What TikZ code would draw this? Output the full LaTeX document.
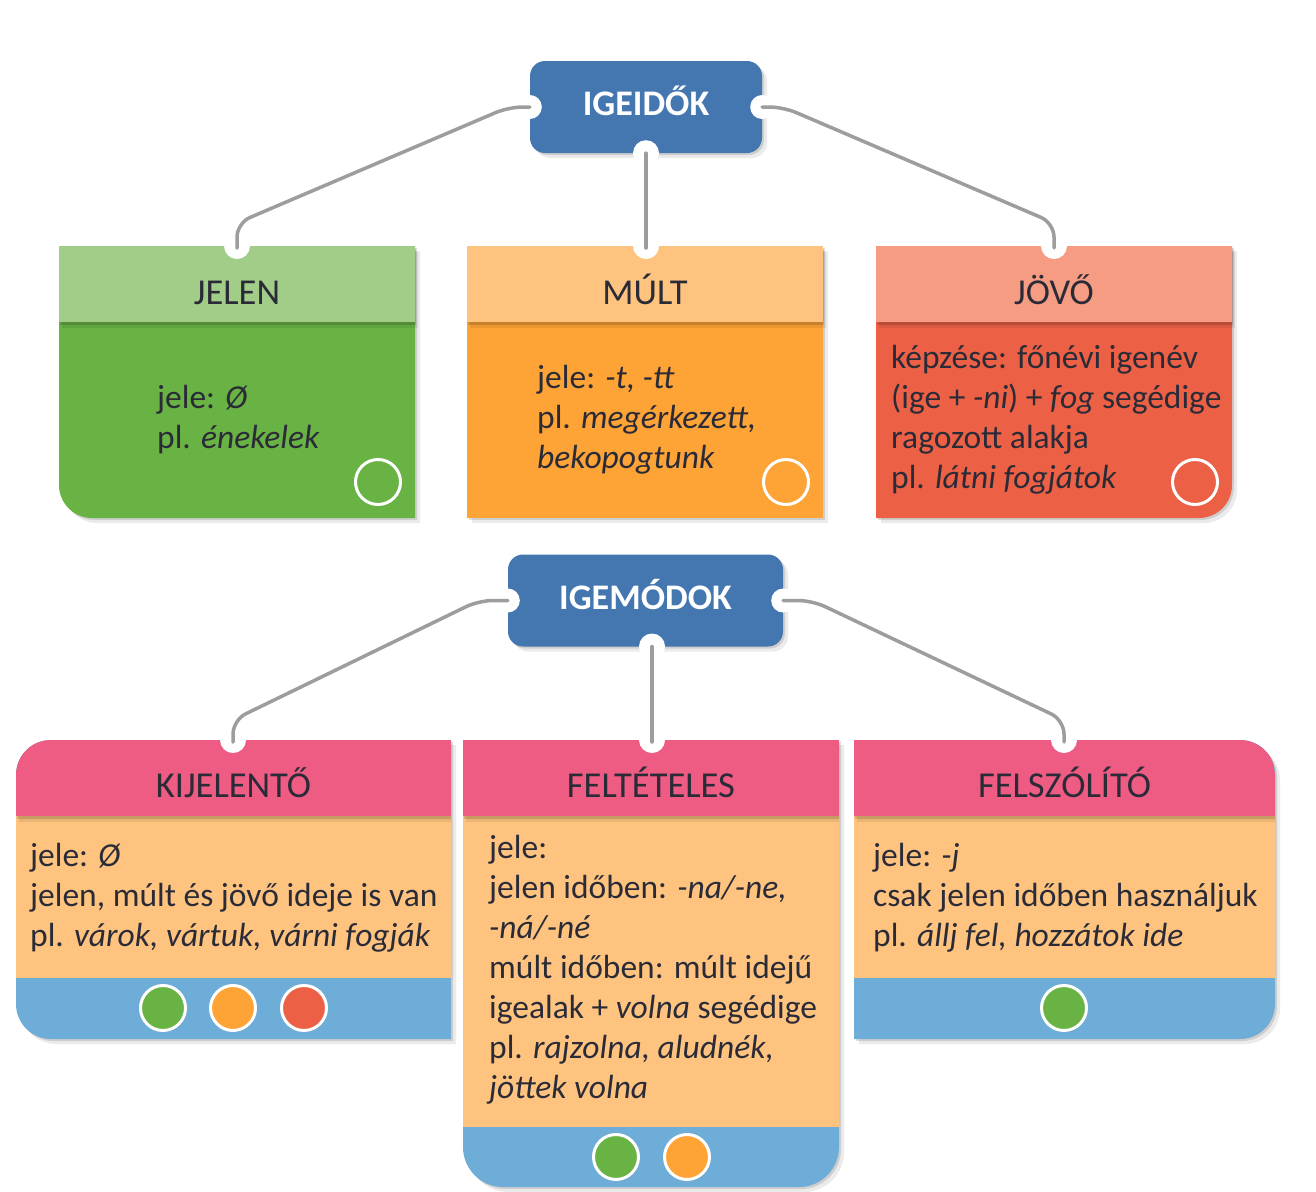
\documentclass[tikz,border=0pt]{standalone}
\usepackage{fontspec}
\setmainfont{Carlito}
\usetikzlibrary{calc,shadows}

\definecolor{igblue}{HTML}{4477B0}
\definecolor{jelenhead}{HTML}{A1CD88}
\definecolor{jelenbody}{HTML}{69B244}
\definecolor{multhead}{HTML}{FEC47F}
\definecolor{multbody}{HTML}{FEA336}
\definecolor{jovohead}{HTML}{F69C83}
\definecolor{jovobody}{HTML}{EC6146}
\definecolor{modhead}{HTML}{EE5B83}
\definecolor{modbody}{HTML}{FEC47F}
\definecolor{modfoot}{HTML}{6DADD7}
\definecolor{linegray}{HTML}{9D9D9D}
\definecolor{textdark}{HTML}{2B2B38}

\tikzset{
  boxshadow/.style={drop shadow={shadow xshift=2pt, shadow yshift=-2pt, opacity=0.12, fill=black},
    drop shadow={shadow xshift=5pt, shadow yshift=-5pt, opacity=0.08, fill=black}},
  headshadow/.style={drop shadow={shadow xshift=1pt, shadow yshift=-3pt, opacity=0.14, fill=black},
    drop shadow={shadow xshift=3pt, shadow yshift=-6pt, opacity=0.08, fill=black}},
  conn/.style={draw=linegray, line width=3.5pt, line cap=round, rounded corners=14pt},
  titlebox/.style={rectangle, rounded corners=15pt, fill=igblue, text=white,
    font=\fontsize{36}{40}\selectfont\bfseries, minimum height=92pt,
    text height=23pt, text depth=6pt, inner sep=0pt, boxshadow},
  headtext/.style={anchor=base, inner sep=0pt, text=textdark, font=\fontsize{36.5}{40}\selectfont},
  % anchor sits on the last line's baseline
  bodytext/.style={anchor=base west, align=left, inner sep=0pt, text=textdark, font=\fontsize{33.5}{40}\selectfont},
  notch/.style={fill=white},
  ring/.style={draw=white, line width=3pt},
  dot/.style={draw=white, line width=3pt, drop shadow={shadow xshift=1pt, shadow yshift=-1.5pt, opacity=0.2, fill=black}}
}

\begin{document}
\begin{tikzpicture}[x=1pt,y=-1pt]
\useasboundingbox (0,0) rectangle (1316,1191);

% igeidok
\node[titlebox, minimum width=232pt] (igeidok) at (646,107) {IGEIDŐK};
\fill[notch] (igeidok.west) circle (12);
\fill[notch] (igeidok.east) circle (12);
\fill[notch] (igeidok.south) circle (13);

% jelen
\fill[jelenbody, boxshadow] (59,246) -- (415,246) -- (415,518) -- (92,518) arc[start angle=90, end angle=180, radius=33] -- cycle;
\fill[jelenhead, headshadow] (59,246) rectangle (415,322);
\coordinate (jelen-top) at (237,246);
\fill[notch] (jelen-top) circle (13);
\node[headtext] (jelen) at (237,304) {JELEN};
\node[bodytext] (jelen-txt) at (157,448) {jele: \textit{Ø}\\pl. \textit{énekelek}};
\draw[ring] (378,482) circle (22.5);

% mult
\fill[multbody, boxshadow] (467,246) rectangle (823,518);
\fill[multhead, headshadow] (467,246) rectangle (823,322);
\coordinate (mult-top) at (646,246);
\fill[notch] (mult-top) circle (13);
\node[headtext] (mult) at (645,304) {MÚLT};
\node[bodytext] (mult-txt) at (537,468) {jele: \textit{-t, -tt}\\pl. \textit{megérkezett,}\\\textit{bekopogtunk}};
\draw[ring] (786,482) circle (22.5);

% jovo
\fill[jovobody, boxshadow] (876,246) -- (1232,246) -- (1232,485) arc[start angle=0, end angle=90, radius=33] -- (876,518) -- cycle;
\fill[jovohead, headshadow] (876,246) rectangle (1232,322);
\coordinate (jovo-top) at (1054,246);
\fill[notch] (jovo-top) circle (13);
\node[headtext] (jovo) at (1054,304) {JÖVŐ};
\node[bodytext] (jovo-txt) at (891,488) {képzése: főnévi igenév\\(ige + \textit{-ni}) + \textit{fog} segédige\\ragozott alakja\\pl. \textit{látni fogjátok}};
\draw[ring] (1195,482) circle (22.5);

% igemodok
\node[titlebox, minimum width=275pt] (igemodok) at (645.5,600.5) {IGEMÓDOK};
\coordinate (igemodok-bot) at (652,646.5);
\fill[notch] (igemodok.west) circle (12);
\fill[notch] (igemodok.east) circle (12);
\fill[notch] (igemodok-bot) circle (13);

% kijelento
\fill[modfoot, boxshadow] (451,740) -- (451,1039) -- (51,1039) arc[start angle=90, end angle=180, radius=35] -- (16,775) arc[start angle=180, end angle=270, radius=35] -- cycle;
\begin{scope}
\clip (451,740) -- (451,1039) -- (51,1039) arc[start angle=90, end angle=180, radius=35] -- (16,775) arc[start angle=180, end angle=270, radius=35] -- cycle;
\fill[modbody] (16,816) rectangle (451,978);
\fill[modhead, headshadow] (16,740) rectangle (451,816);
\end{scope}
\coordinate (kijel-top) at (233,740);
\fill[notch] (kijel-top) circle (13);
\node[headtext] (kijel) at (233.5,797) {KIJELENTŐ};
\node[bodytext] (kijel-txt) at (30,946) {jele: \textit{Ø}\\jelen, múlt és jövő ideje is van\\pl. \textit{várok, vártuk, várni fogják}};
\draw[dot, fill=jelenbody] (163,1008) circle (22.5);
\draw[dot, fill=multbody] (233,1008) circle (22.5);
\draw[dot, fill=jovobody] (304,1008) circle (22.5);

% felteteles
\fill[modfoot, boxshadow] (463,740) -- (839,740) -- (839,1147) arc[start angle=0, end angle=90, radius=40] -- (503,1187) arc[start angle=90, end angle=180, radius=40] -- cycle;
\begin{scope}
\clip (463,740) -- (839,740) -- (839,1147) arc[start angle=0, end angle=90, radius=40] -- (503,1187) arc[start angle=90, end angle=180, radius=40] -- cycle;
\fill[modbody] (463,816) rectangle (839,1127);
\fill[modhead, headshadow] (463,740) rectangle (839,816);
\end{scope}
\coordinate (feltet-top) at (652,740);
\fill[notch] (feltet-top) circle (13);
\node[headtext] (feltet) at (651,797) {FELTÉTELES};
\node[bodytext] (feltet-txt) at (489,1098) {jele:\\jelen időben: \textit{-na/-ne,}\\\textit{-ná/-né}\\múlt időben: múlt idejű\\igealak + \textit{volna} segédige\\pl. \textit{rajzolna, aludnék,}\\\textit{jöttek volna}};
\draw[dot, fill=jelenbody] (616,1157) circle (22.5);
\draw[dot, fill=multbody] (687,1157) circle (22.5);

% felszolito
\fill[modfoot, boxshadow] (854,740) -- (1240,740) arc[start angle=270, end angle=360, radius=35] -- (1275,1004) arc[start angle=0, end angle=90, radius=35] -- (854,1039) -- cycle;
\begin{scope}
\clip (854,740) -- (1240,740) arc[start angle=270, end angle=360, radius=35] -- (1275,1004) arc[start angle=0, end angle=90, radius=35] -- (854,1039) -- cycle;
\fill[modbody] (854,816) rectangle (1275,978);
\fill[modhead, headshadow] (854,740) rectangle (1275,816);
\end{scope}
\coordinate (felsz-top) at (1064,740);
\fill[notch] (felsz-top) circle (13);
\node[headtext] (felsz) at (1064.5,797) {FELSZÓLÍTÓ};
\node[bodytext] (felsz-txt) at (873,946) {jele: \textit{-j}\\csak jelen időben használjuk\\pl. \textit{állj fel, hozzátok ide}};
\draw[dot, fill=jelenbody] (1064,1008) circle (22.5);

% connectors
\draw[conn] (igeidok.west) -- ++(-21,0) -- ($(jelen-top)+(0,-23)$) -- ($(jelen-top)+(0,2)$);
\draw[conn] (igeidok.south) -- ($(mult-top)+(0,2)$);
\draw[conn] (igeidok.east) -- ++(21,0) -- ($(jovo-top)+(0,-23)$) -- ($(jovo-top)+(0,2)$);
\draw[conn] (igemodok.west) -- ++(-29,0) -- ($(kijel-top)+(0,-20)$) -- ($(kijel-top)+(0,2)$);
\draw[conn] (igemodok-bot) -- ($(feltet-top)+(0,2)$);
\draw[conn] (igemodok.east) -- ++(29,0) -- ($(felsz-top)+(0,-20)$) -- ($(felsz-top)+(0,2)$);
\end{tikzpicture}
\end{document}
